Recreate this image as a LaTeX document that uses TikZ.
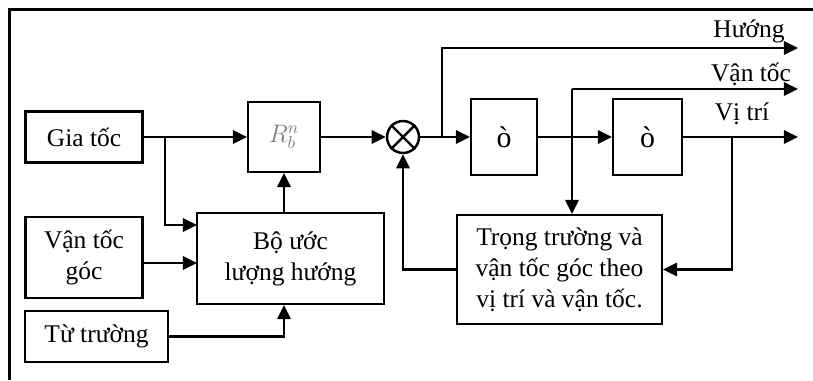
\documentclass[tikz,border=0pt]{standalone}
\usepackage{fontspec}
\setmainfont{Liberation Serif}
\usetikzlibrary{arrows.meta}

\begin{document}
\begin{tikzpicture}[x=0.02cm,y=-0.02cm,
		font=\fontsize{14.5}{17.5}\selectfont,
		blk/.style={draw,line width=1.2pt,align=center,inner sep=0pt},
		wire/.style={line width=1.4pt},
		arr/.style={wire,-{Triangle[length=8pt,width=7.5pt]}}]
			%%%%% START %%%%%
			
			\useasboundingbox (0,0) rectangle (813,380);
			\draw[line width=1.9pt] (9.5,380) -- (9.5,9.5) -- (813,9.5);
			
			\node[blk,minimum width=2.34cm,minimum height=1.02cm] (gia) at (84,137) {Gia tốc};
			\node[blk,minimum width=2.34cm,minimum height=1.62cm] (vtg) at (84,257.5) {Vận tốc\\góc};
			\node[blk,minimum width=2.86cm,minimum height=1.02cm] (tutr) at (96.5,336.5) {Từ trường};
			\node[blk,minimum width=1.44cm,minimum height=1.40cm] (rot) at (284,137) {\color{black!50}$R_{b}^{n}$};
			\node[blk,minimum width=3.74cm,minimum height=1.82cm] (est) at (290.5,258.5) {Bộ ước\\lượng hướng};
			\node[draw,circle,line width=1.4pt,minimum size=0.64cm,inner sep=0pt] (sum) at (403,137) {};
			\draw[wire] (sum.north west) -- (sum.south east);
			\draw[wire] (sum.south west) -- (sum.north east);
			\node[blk,minimum width=1.32cm,minimum height=1.52cm] (int1) at (504,137) {\fontsize{17}{18}\selectfont ò};
			\node[blk,minimum width=1.38cm,minimum height=1.52cm] (int2) at (647.5,137) {\fontsize{17}{18}\selectfont ò};
			\node[blk,minimum width=4.10cm,minimum height=2.18cm] (fb) at (559.5,269.5) {Trọng trường và\\vận tốc góc theo\\vị trí và vận tốc.};
			
			\node (lhuong) at (749,31) {Hướng};
			\node (lvtoc) at (751,74) {Vận tốc};
			\node (lvtri) at (742,114) {Vị trí};
			
			\coordinate (ga) at (165,137);
			\coordinate (e1) at (197,225);
			\coordinate (e2) at (197,263);
			\coordinate (hb) at (442,137);
			\coordinate (hend) at (798,48);
			\coordinate (vb) at (572,89);
			\coordinate (vend) at (798,89);
			\coordinate (pb) at (732,137);
			\coordinate (pend) at (798,137);
			
			\draw[arr] (gia.east) -- (rot.west);
			\draw[arr] (ga) |- (e1);
			\draw[arr] (vtg.east |- e2) -- (e2);
			\draw[arr] (tutr.east) -| (rot.south |- est.south);
			\draw[arr] (rot.south |- est.north) -- (rot.south);
			\draw[arr] (rot.east) -- (sum.west);
			\draw[arr] (sum.east) -- (int1.west);
			\draw[arr] (hb) |- (hend);
			\draw[arr] (int1.east) -- (int2.west);
			\draw[arr] (vb) -- (vend);
			\draw[arr] (vb) -- (vb |- fb.north);
			\draw[arr] (int2.east) -- (pend);
			\draw[arr] (pb) |- (fb.east);
			\draw[arr] (fb.west) -| (sum.south);
			
			%%%%% END %%%%%
\end{tikzpicture}
\end{document}
